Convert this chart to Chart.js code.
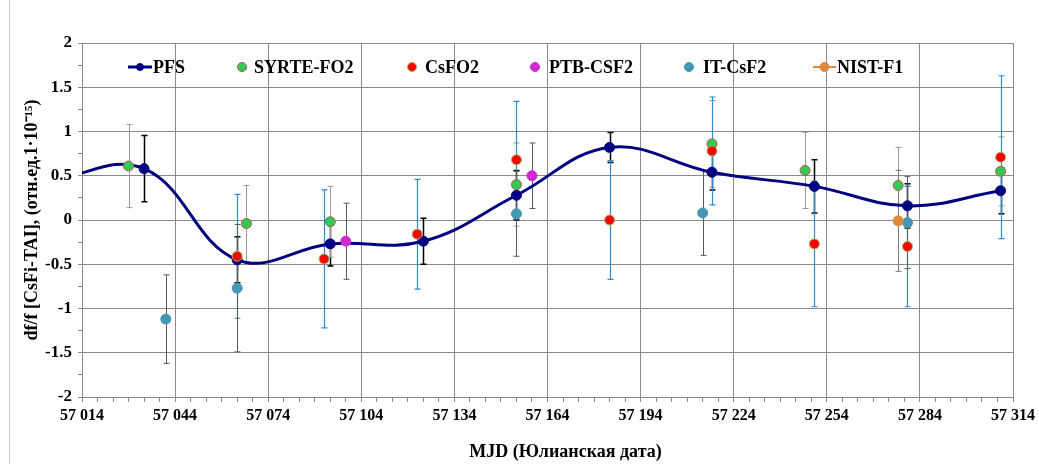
<!DOCTYPE html>
<html>
<head>
<meta charset="utf-8">
<title>PFS vs TAI</title>
<script src="https://cdn.jsdelivr.net/npm/chart.js@4/dist/chart.umd.min.js"></script>
<style>
  html, body { margin: 0; padding: 0; background: #fff; }
  #wrap { position: relative; width: 1039px; height: 464px; }
  #wrap .frame { position: absolute; left: 9px; top: 0; bottom: 0; width: 1px; background: #cfcfcf; }
  canvas { display: block; }
</style>
</head>
<body>
<div id="wrap">
  <div class="frame"></div>
  <canvas id="chart" width="1039" height="464"></canvas>
</div>
<script>
// ─────────────────────────────
// Data (MJD, df/f in 1e-15, error half-width)
// ─────────────────────────────
const xMin = 57014;
const xMax = 57314;
const xStep = 30;

const pfsMjd = [57004, 57034, 57064, 57094, 57124, 57154, 57184, 57217, 57250, 57280, 57310];
const pfsVal = [0.45, 0.58, -0.45, -0.27, -0.24, 0.28, 0.82, 0.54, 0.38, 0.16, 0.33];
const pfsErr = [0.3, 0.375, 0.26, 0.25, 0.26, 0.28, 0.17, 0.2, 0.3, 0.25, 0.26];

const syrteMjd = [57029, 57067, 57094, 57154, 57217, 57247, 57277, 57310];
const syrteVal = [0.61, -0.04, -0.02, 0.40, 0.86, 0.56, 0.39, 0.55];
const syrteErr = [0.47, 0.43, 0.40, 0.47, 0.49, 0.43, 0.43, 0.39];

const csfo2Mjd = [57064, 57092, 57122, 57154, 57184, 57217, 57250, 57280, 57310];
const csfo2Val = [-0.41, -0.44, -0.16, 0.68, 0.0, 0.78, -0.27, -0.30, 0.71];
const csfo2Err = [0.70, 0.78, 0.62, 0.66, 0.67, 0.61, 0.71, 0.68, 0.92];

const ptbMjd = [57099, 57159];
const ptbVal = [-0.24, 0.50];
const ptbErr = [0.43, 0.37];

const itMjd = [57041, 57064, 57154, 57214, 57280];
const itVal = [-1.12, -0.77, 0.07, 0.08, -0.03];
const itErr = [0.50, 0.72, 0.48, 0.48, 0.52];

const nistMjd = [57277];
const nistVal = [-0.01];
const nistErr = [0.57];

const pts = (xs, ys) => xs.map((x, i) => ({ x: x, y: ys[i] }));

const FONT = 'Liberation Serif, Times New Roman, serif';

// ─────────────────────────────
// Error bars
// ─────────────────────────────
const errorBars = {
  id: 'errorBars',
  beforeDatasetsDraw(chart) {
    const { ctx, chartArea, scales: { x, y } } = chart;
    ctx.save();
    ctx.beginPath();
    ctx.rect(chartArea.left, chartArea.top, chartArea.width, chartArea.height);
    ctx.clip();
    chart.data.datasets.forEach(ds => {
      if (!ds.errors) return;
      ctx.strokeStyle = ds.errorColor;
      ctx.lineWidth = ds.errorWidth;
      ds.data.forEach((p, i) => {
        const px = Math.round(x.getPixelForValue(p.x)) + 0.5;
        const top = y.getPixelForValue(p.y + ds.errors[i]);
        const bot = y.getPixelForValue(p.y - ds.errors[i]);
        ctx.beginPath();
        ctx.moveTo(px, top); ctx.lineTo(px, bot);
        ctx.moveTo(px - 3, top); ctx.lineTo(px + 3, top);
        ctx.moveTo(px - 3, bot); ctx.lineTo(px + 3, bot);
        ctx.stroke();
      });
    });
    ctx.restore();
  }
};

// ─────────────────────────────
// Legend inside the plot + x title
// ─────────────────────────────
const legendItems = [
  { text: 'PFS', color: '#000080', border: '#000080', line: [46, 70], dot: 58, r: 3.5, tx: 71, lw: 3 },
  { text: 'SYRTE-FO2', color: '#2ecc55', border: '#c0504d', dot: 160, r: 4.5, tx: 172 },
  { text: 'CsFO2', color: '#ff0000', border: '#9bbb59', dot: 330, r: 4.5, tx: 343 },
  { text: 'PTB-CSF2', color: '#d22ad2', border: '#d22ad2', dot: 453, r: 4.5, tx: 467 },
  { text: 'IT-CsF2', color: '#4598b4', border: '#4598b4', dot: 607, r: 4.5, tx: 621 },
  { text: 'NIST-F1', color: '#e0883c', border: '#e0883c', line: [731, 754], dot: 742.5, r: 4.5, tx: 755, lw: 2 }
];

const overlay = {
  id: 'overlay',
  afterDraw(chart) {
    const { ctx, chartArea } = chart;
    const y0 = chartArea.top + 24;
    ctx.save();
    ctx.font = 'bold 18px ' + FONT;
    ctx.textBaseline = 'middle';
    ctx.textAlign = 'left';
    legendItems.forEach(it => {
      const l = chartArea.left;
      if (it.line) {
        ctx.strokeStyle = it.color;
        ctx.lineWidth = it.lw;
        ctx.beginPath();
        ctx.moveTo(l + it.line[0], y0);
        ctx.lineTo(l + it.line[1], y0);
        ctx.stroke();
      }
      ctx.beginPath();
      ctx.arc(l + it.dot, y0, it.r, 0, Math.PI * 2);
      ctx.fillStyle = it.color;
      ctx.fill();
      ctx.lineWidth = 1;
      ctx.strokeStyle = it.border;
      ctx.stroke();
      ctx.fillStyle = '#000';
      ctx.fillText(it.text, l + it.tx, y0 + 1);
    });

    // x axis title
    ctx.textAlign = 'center';
    ctx.font = 'bold 18px ' + FONT;
    ctx.fillText('MJD (Юлианская дата)', (chartArea.left + chartArea.right) / 2 + 18, 452);
    ctx.restore();
  }
};

const fmtMjd = v => String(v).replace(/(\d{2})(\d{3})$/, '$1 $2');
const isMajorX = v => Math.abs((v - xMin) % xStep) < 1e-6;
const isMajorY = v => Math.abs(v * 2 - Math.round(v * 2)) < 1e-6;

new Chart(document.getElementById('chart'), {
  type: 'scatter',
  data: {
    datasets: [
      {
        label: 'PFS', data: pts(pfsMjd, pfsVal), errors: pfsErr,
        errorColor: '#000', errorWidth: 1.5,
        showLine: true, tension: 0.4, capBezierPoints: false, clip: 0,
        borderColor: '#000080', borderWidth: 3,
        pointBackgroundColor: '#000080', pointBorderColor: '#000080', pointBorderWidth: 1,
        pointRadius: 5, order: 6
      },
      {
        label: 'SYRTE-FO2', data: pts(syrteMjd, syrteVal), errors: syrteErr,
        errorColor: '#9a9a9a', errorWidth: 1,
        pointBackgroundColor: '#2ecc55', pointBorderColor: '#c0504d', pointBorderWidth: 1,
        pointRadius: 5, order: 5
      },
      {
        label: 'CsFO2', data: pts(csfo2Mjd, csfo2Val), errors: csfo2Err,
        errorColor: '#2f8ad0', errorWidth: 1.2,
        pointBackgroundColor: '#ff0000', pointBorderColor: '#9bbb59', pointBorderWidth: 1,
        pointRadius: 5, order: 4
      },
      {
        label: 'PTB-CSF2', data: pts(ptbMjd, ptbVal), errors: ptbErr,
        errorColor: '#5a5a5a', errorWidth: 1,
        pointBackgroundColor: '#d22ad2', pointBorderColor: '#d22ad2', pointBorderWidth: 1,
        pointRadius: 5, order: 3
      },
      {
        label: 'IT-CsF2', data: pts(itMjd, itVal), errors: itErr,
        errorColor: '#5a5a5a', errorWidth: 1,
        pointBackgroundColor: '#4598b4', pointBorderColor: '#4598b4', pointBorderWidth: 1,
        pointRadius: 5, order: 2
      },
      {
        label: 'NIST-F1', data: pts(nistMjd, nistVal), errors: nistErr,
        errorColor: '#7a7a7a', errorWidth: 1,
        pointBackgroundColor: '#e0883c', pointBorderColor: '#e0883c', pointBorderWidth: 1,
        pointRadius: 5, order: 1
      }
    ]
  },
  options: {
    responsive: false,
    animation: false,
    layout: { padding: { left: 22, right: 26, top: 43, bottom: 0 } },
    plugins: { legend: { display: false }, tooltip: { enabled: false } },
    scales: {
      x: {
        type: 'linear', min: xMin, max: xMax,
        afterFit: s => { s.height = 67; },
        ticks: {
          stepSize: 5, autoSkip: false, maxRotation: 0, padding: 4,
          color: '#000', font: { family: FONT, size: 16, weight: 'bold' },
          callback: v => isMajorX(v) ? fmtMjd(v) : ''
        },
        grid: {
          color: c => isMajorX(c.tick.value) ? '#8a8a8a' : 'rgba(0,0,0,0)',
          tickColor: '#8a8a8a', tickLength: 5
        },
        border: { color: '#8a8a8a' }
      },
      y: {
        min: -2, max: 2,
        afterFit: s => { s.width = 60; },
        ticks: {
          stepSize: 0.25, autoSkip: false, padding: 6,
          color: '#000', font: { family: FONT, size: 17, weight: 'bold' },
          callback: v => isMajorY(v) ? String(Math.round(v * 2) / 2) : ''
        },
        grid: {
          color: c => isMajorY(c.tick.value) ? '#8a8a8a' : 'rgba(0,0,0,0)',
          tickColor: '#8a8a8a', tickLength: 4
        },
        border: { color: '#8a8a8a' },
        title: {
          display: true, text: 'df/f [CsFi-TAI], (отн.ед.1·10⁻¹⁵)',
          color: '#000', font: { family: FONT, size: 18, weight: 'bold' },
          padding: { top: 0, bottom: 0 }
        }
      }
    }
  },
  plugins: [errorBars, overlay]
});
</script>
</body>
</html>
